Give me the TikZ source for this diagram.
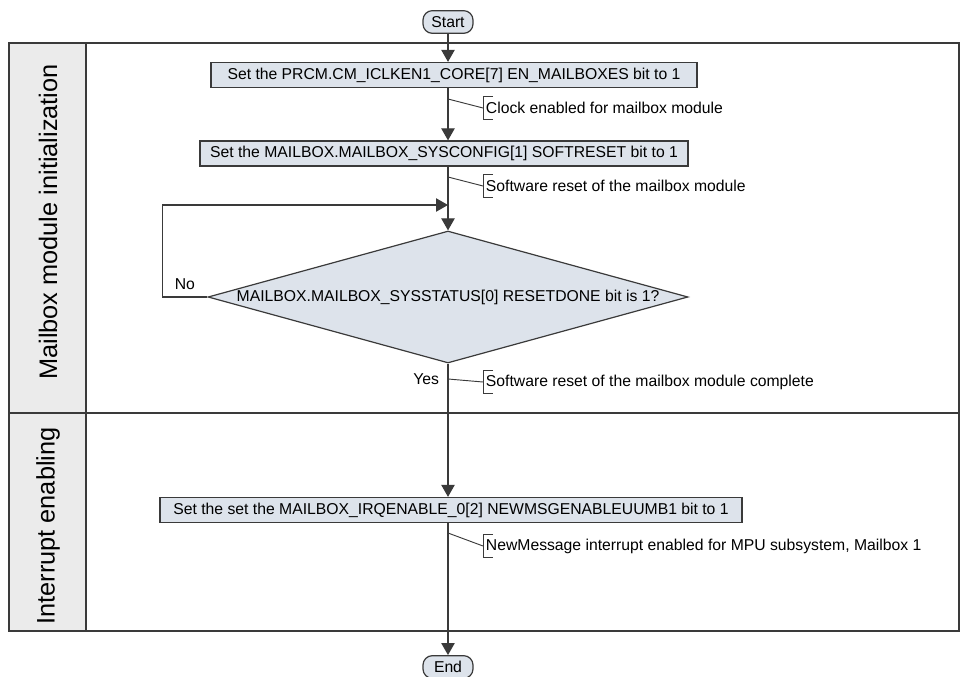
\documentclass[tikz,border=0pt]{standalone}
\usepackage{fontspec}
\setmainfont{Liberation Sans}
\usetikzlibrary{arrows.meta, positioning, shapes.geometric}
\definecolor{boxfill}{HTML}{DDE3EB}
\definecolor{lanefill}{HTML}{EBEBEB}
\definecolor{linegray}{HTML}{3A3A3A}

\begin{document}
\begin{tikzpicture}[x=0.75pt, y=-0.75pt,
  font=\fontsize{11.8}{14}\selectfont,
  procbox/.style={draw=linegray, fill=boxfill, line width=0.9pt, inner sep=0pt,
                  minimum height=18.75pt},
  terminal/.style={draw=linegray, fill=boxfill, line width=0.9pt, rounded corners=7pt,
                   inner sep=0pt, minimum width=37.5pt, minimum height=17pt},
  decision/.style={diamond, draw=linegray, fill=boxfill, line width=0.9pt, inner sep=0pt,
                   minimum width=360pt, minimum height=99pt},
  note/.style={anchor=west, inner xsep=2pt, inner ysep=0pt, minimum height=16.5pt},
  flow/.style={draw=linegray, line width=0.9pt, -{Triangle[length=9pt, width=10pt]}},
  link/.style={draw=linegray, line width=0.7pt},
  lane/.style={rotate=90, font=\fontsize{19}{21}\selectfont}
]
  \useasboundingbox (0,0) rectangle (961,677);

  % Swimlanes
  \filldraw[fill=lanefill, draw=linegray, line width=0.9pt] (9,43) rectangle (86,631);
  \draw[linegray, line width=0.9pt] (9,43) rectangle (959,631);
  \draw[linegray, line width=0.9pt] (9,413) -- (959,413);
  \node[lane] (laneinit) at (48,222) {Mailbox module initialization};
  \node[lane] (laneirq) at (48,526) {Interrupt enabling};

  % Terminals and steps
  \node[terminal] (start) at (448,22) {Start};
  \node[procbox, minimum width=364.5pt] (clken) at (454,75)
    {Set the PRCM.CM\_ICLKEN1\_CORE[7] EN\_MAILBOXES bit to 1};
  \node[procbox, minimum width=366pt] (reset) at (444,153.5)
    {Set the MAILBOX.MAILBOX\_SYSCONFIG[1] SOFTRESET bit to 1};
  \node[decision] (chk) at (448,297) {};
  \node (chktxt) at (448,297) {MAILBOX.MAILBOX\_SYSSTATUS[0] RESETDONE bit is 1?};
  \node[procbox, minimum width=436.5pt] (irqen) at (451,510)
    {Set the set the MAILBOX\_IRQENABLE\_0[2] NEWMSGENABLEUUMB1 bit to 1};
  \node[terminal] (end) at (448,667) {End};

  % Flow
  \draw[flow] (start) -- (start |- clken.north);
  \draw[flow] (start |- clken.south) -- (start |- reset.north);
  \draw[flow] (start |- reset.south) -- (chk.north);
  \coordinate (merge) at (448,205);
  \draw[flow] (chk.west) -- node[above=2pt]{No} ++(-45,0) |- (merge);
  \draw[flow] (chk.south) -- node[left=3pt, pos=0.12]{Yes} (chk.south |- irqen.north);
  \draw[flow] (chk.south |- irqen.south) -- (end);

  % Annotations
  \node[note] (clknote) at (483,108) {Clock enabled for mailbox module};
  \node[note] (rstnote) at (483,186) {Software reset of the mailbox module};
  \node[note] (donenote) at (483,382) {Software reset of the mailbox module complete};
  \node[note] (irqnote) at (483,546) {NewMessage interrupt enabled for MPU subsystem, Mailbox 1};
  \coordinate (clktap) at (448,99);
  \coordinate (rsttap) at (448,177);
  \coordinate (donetap) at (448,379);
  \coordinate (irqtap) at (448,533);
  \foreach \n/\t in {clknote/clktap, rstnote/rsttap, donenote/donetap, irqnote/irqtap} {
    \draw[link] ([xshift=7.5pt]\n.north west) -| (\n.south west) -- ++(10,0);
    \draw[link] (\t) -- (\n.west);
  }
\end{tikzpicture}
\end{document}
